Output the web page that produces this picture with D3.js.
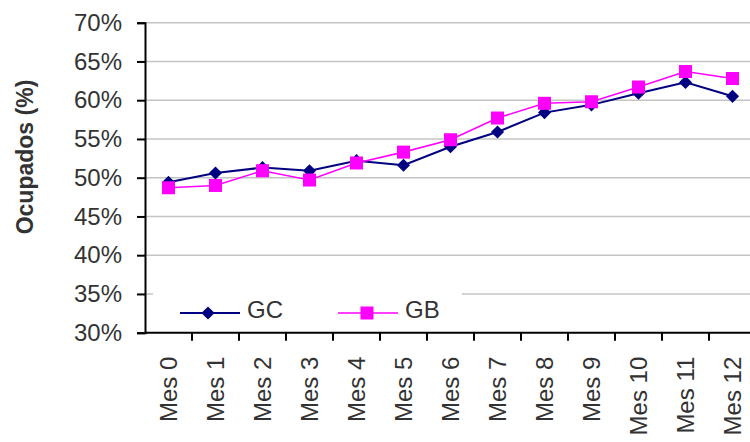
<!DOCTYPE html>
<html>
<head>
<meta charset="utf-8">
<script src="https://cdn.jsdelivr.net/npm/d3@7"></script>
<style>
  html, body { margin: 0; padding: 0; background: #fff; }
  svg { display: block; }
  text { font-family: "Liberation Sans", Arial, sans-serif; fill: #333; }
</style>
</head>
<body>
<svg id="chart" width="750" height="442"></svg>
<script>
// Monthly occupancy share (%) for the two groups
const months = ["Mes 0", "Mes 1", "Mes 2", "Mes 3", "Mes 4", "Mes 5", "Mes 6",
                "Mes 7", "Mes 8", "Mes 9", "Mes 10", "Mes 11", "Mes 12"];
const gc = [49.4, 50.6, 51.3, 50.9, 52.2, 51.6, 54.0, 55.9, 58.4, 59.4, 60.9, 62.3, 60.5];
const gb = [48.7, 49.0, 50.9, 49.7, 51.9, 53.3, 54.9, 57.7, 59.6, 59.8, 61.7, 63.7, 62.8];
const yTicks = [30, 35, 40, 45, 50, 55, 60, 65, 70];
const seriesNames = ["GC", "GB"];

const svg = d3.select("#chart");
const plotLeft = 145, plotTop = 22.7, plotBottom = 332.7, bandW = 47;

const x = d3.scaleBand().domain(months).range([plotLeft, plotLeft + bandW * months.length]).padding(0);
const y = d3.scaleLinear().domain([30, 70]).range([plotBottom, plotTop]);
const cx = d => x(d) + x.bandwidth() / 2;

// horizontal gridlines
svg.append("g").selectAll("line")
  .data(yTicks.filter(t => t > 30))
  .join("line")
  .attr("x1", plotLeft).attr("x2", 750)
  .attr("y1", d => y(d)).attr("y2", d => y(d))
  .attr("stroke", "#c4c4c4").attr("stroke-width", 1.6);

// y axis
const yAxis = d3.axisLeft(y).tickValues(yTicks).tickSize(8).tickPadding(15)
  .tickFormat(d => d + "%");
const gy = svg.append("g").attr("transform", `translate(${plotLeft},0)`).call(yAxis);
gy.select(".domain").attr("stroke", "#000").attr("stroke-width", 2);
gy.selectAll(".tick line").attr("stroke", "#000").attr("stroke-width", 2);
gy.selectAll(".tick text")
  .attr("font-size", 24).attr("fill", "#333")
  .style("font-family", "'Liberation Sans', Arial, sans-serif");

// x axis (category boundaries)
const gx = svg.append("g").attr("transform", `translate(0,${plotBottom})`);
gx.append("line").attr("x1", plotLeft).attr("x2", 750).attr("y1", 0).attr("y2", 0)
  .attr("stroke", "#000").attr("stroke-width", 2);
gx.selectAll("line.tk")
  .data(months.map(m => x(m)).slice(1))
  .join("line").attr("class", "tk")
  .attr("x1", d => d).attr("x2", d => d).attr("y1", 0).attr("y2", 8)
  .attr("stroke", "#000").attr("stroke-width", 2);
gx.selectAll("text")
  .data(months)
  .join("text")
  .attr("transform", d => `translate(${cx(d) + 8},24) rotate(-90)`)
  .attr("text-anchor", "end")
  .attr("font-size", 24)
  .text(d => d);

// y axis title
svg.append("text")
  .attr("transform", "translate(33,157) rotate(-90)")
  .attr("text-anchor", "middle")
  .attr("font-size", 23).attr("font-weight", "bold")
  .text("Ocupados (%)");

// series
const line = d3.line().x((d, i) => cx(months[i])).y(d => y(d));
const diamond = d3.symbol().type(d3.symbolDiamond2).size(110);

svg.append("path").datum(gc).attr("d", line)
  .attr("fill", "none").attr("stroke", "#000080").attr("stroke-width", 2);
svg.append("path").datum(gb).attr("d", line)
  .attr("fill", "none").attr("stroke", "#ff00ff").attr("stroke-width", 1.6);

svg.append("g").selectAll("path").data(gc).join("path")
  .attr("transform", (d, i) => `translate(${cx(months[i])},${y(d)})`)
  .attr("d", diamond).attr("fill", "#000080");
svg.append("g").selectAll("rect").data(gb).join("rect")
  .attr("x", (d, i) => cx(months[i]) - 6.5).attr("y", d => y(d) - 6.5)
  .attr("width", 13).attr("height", 13).attr("fill", "#ff00ff");

// legend
const lg = svg.append("g");
lg.append("rect").attr("x", 153).attr("y", 282).attr("width", 309).attr("height", 46).attr("fill", "#fff");
const legendItems = [
  { name: seriesNames[0], color: "#000080", x0: 180, marker: "diamond", sw: 2 },
  { name: seriesNames[1], color: "#ff00ff", x0: 338, marker: "square", sw: 1.6 }
];
legendItems.forEach(it => {
  const ly = 313;
  lg.append("line").attr("x1", it.x0).attr("x2", it.x0 + 60).attr("y1", ly).attr("y2", ly)
    .attr("stroke", it.color).attr("stroke-width", it.sw);
  if (it.marker === "diamond") {
    lg.append("path").attr("transform", `translate(${it.x0 + 28},${ly})`).attr("d", diamond).attr("fill", it.color);
  } else {
    lg.append("rect").attr("x", it.x0 + 29 - 6.5).attr("y", ly - 6.5).attr("width", 13).attr("height", 13).attr("fill", it.color);
  }
  lg.append("text").attr("x", it.x0 + 67).attr("y", ly + 5)
    .attr("font-size", 24).text(it.name);
});
</script>
</body>
</html>
